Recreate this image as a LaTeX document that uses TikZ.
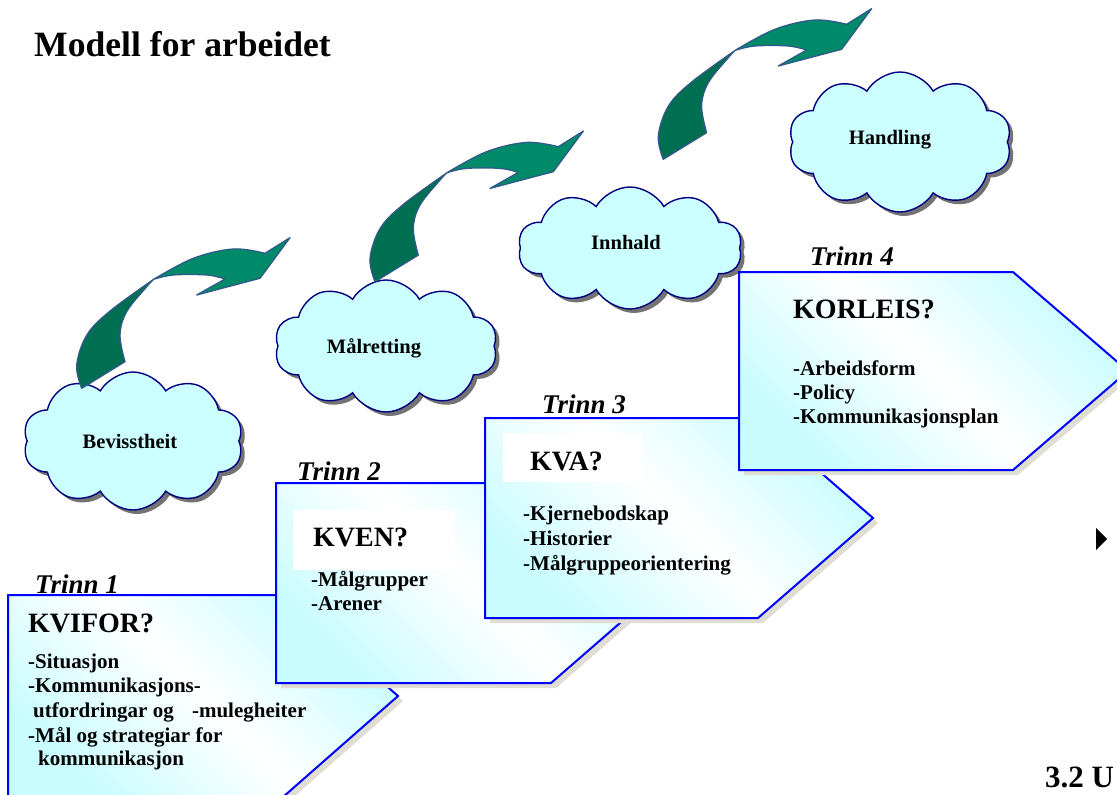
\documentclass[tikz,border=0pt]{standalone}
\usepackage{fontspec}
\setmainfont{Liberation Serif}
\usetikzlibrary{shapes.symbols,shadows}
\definecolor{cloudfill}{HTML}{CCFFFF}
\definecolor{cloudline}{HTML}{000080}
\definecolor{boxline}{HTML}{0000FF}
\definecolor{boxcy}{HTML}{C8FCFF}
\definecolor{boxshadow}{HTML}{E0DDD2}
\definecolor{arrdark}{HTML}{006E50}
\definecolor{arrlight}{HTML}{008A69}
\definecolor{arrline}{HTML}{2F5A8A}
\tikzset{
  cloudsty/.style={shape=cloud, cloud puffs=10, cloud puff arc=120, cloud ignores aspect,
    draw=cloudline, line width=1.4pt, fill=cloudfill, inner sep=0pt,
    drop shadow={shadow xshift=4pt, shadow yshift=-4pt, fill=black!55, opacity=1}},
  cltext/.style={font=\bfseries\fontsize{20.5}{24}\selectfont, anchor=base, inner sep=0pt},
  ttl/.style={font=\bfseries\fontsize{35.6}{40}\selectfont, anchor=base west, inner sep=0pt},
  trinn/.style={font=\bfseries\itshape\fontsize{27}{30}\selectfont, anchor=base west, inner sep=0pt},
  headtxt/.style={font=\bfseries\fontsize{28}{32}\selectfont, anchor=base west, inner sep=0pt},
  item/.style={font=\bfseries\fontsize{21}{24}\selectfont, anchor=base west, inner sep=0pt},
  stepbox/.style={draw=boxline, line width=2pt, top color=boxcy, bottom color=boxcy, middle color=white, shading angle=-45},
  boxshad/.style={fill=boxshadow},
  arrowdark/.style={fill=arrdark, draw=arrline, line width=1.3pt, line join=round},
  arrowlight/.style={fill=arrlight, draw=arrline, line width=1.3pt, line join=round}
}
\newcommand\greenarrow[2]{%
\begin{scope}[shift={(#1,#2)}]
\filldraw[arrowdark] plot[smooth,tension=0.6] coordinates {(0,0) (-5,-23) (5,-53) (28,-77) (72,-109)} -- plot[smooth,tension=0.6] coordinates {(72,-109) (65,-101.6) (45,-76.6) (38.3,-53.3) (43.3,-26.6)} -- cycle;
\filldraw[arrowlight] plot[smooth,tension=0.6] coordinates {(72,-109) (111.6,-130) (151.6,-139.3) (183.3,-135)} -- (208.3,-150.6) -- (178.3,-110) -- (115,-93.3) -- (143.3,-109.3) -- plot[smooth,tension=0.6] coordinates {(143.3,-109.3) (125,-113.3) (91.6,-113.3) (72,-109)} -- cycle;
\end{scope}}
\newcommand\stepshape[5]{% left, top, width, tip, height
\fill[boxshad] (#1+5,#2+5) -- (#1+#3+5,#2+5) -- (#1+#3+#4+5,#2+#5/2+5) -- (#1+#3+5,#2+#5+5) -- (#1+5,#2+#5+5) -- cycle;
\draw[stepbox] (#1,#2) -- (#1+#3,#2) -- (#1+#3+#4,#2+#5/2) -- (#1+#3,#2+#5) -- (#1,#2+#5) -- cycle;}
\begin{document}
\begin{tikzpicture}[x=1pt,y=-1pt]
\useasboundingbox (0,0) rectangle (1117,795);
\clip (0,0) rectangle (1117,795);
\fill[white] (0,0) rectangle (1117,795);

% title
\node[ttl] (title) at (34,56) {Modell for arbeidet};

% clouds
\node[cloudsty, minimum width=220pt, minimum height=138pt] (c1) at (133,441) {};
\node[cloudsty, minimum width=223pt, minimum height=132pt] (c2) at (386,346) {};
\node[cloudsty, minimum width=224pt, minimum height=122pt] (c3) at (630,248) {};
\node[cloudsty, minimum width=223pt, minimum height=140pt] (c4) at (900,142) {};
\node[cltext] (t1) at (130,448) {Bevisstheit};
\node[cltext] (t2) at (374,353) {Målretting};
\node[cltext] (t3) at (626,249) {Innhald};
\node[cltext] (t4) at (890,144) {Handling};

% arrows
\greenarrow{81.7}{388.3}
\greenarrow{375}{281.7}
\greenarrow{663.3}{159.3}

% step shapes
\stepshape{8}{595}{275}{115}{202}
\stepshape{276}{483}{275}{115}{200}
\stepshape{485}{418}{273}{115}{200}
\stepshape{739}{272}{274}{115}{198}

\fill[white] (293,510) rectangle (455,570);
\fill[white] (503,433) rectangle (642,482);

% Trinn labels
\node[trinn] (tr1) at (35,593) {Trinn 1};
\node[trinn] (tr2) at (297,480) {Trinn 2};
\node[trinn] (tr3) at (542,413) {Trinn 3};
\node[trinn] (tr4) at (810,265) {Trinn 4};

% step 1
\node[headtxt] (h1) at (28,632) {KVIFOR?};
\node[item] (a1) at (28,668) {-Situasjon};
\node[item] (a2) at (28,692) {-Kommunikasjons-};
\node[item] (a3) at (33,717) {utfordringar og\hspace*{13pt} -mulegheiter};
\node[item] (a4) at (28,742) {-Mål og strategiar for};
\node[item] (a5) at (38,765) {kommunikasjon};

% step 2
\node[headtxt] (h2) at (313,546) {KVEN?};
\node[item] (b1) at (311,586) {-Målgrupper};
\node[item] (b2) at (311,610) {-Arener};

% step 3
\node[headtxt] (h3) at (530,470) {KVA?};
\node[item] (d1) at (523,520) {-Kjernebodskap};
\node[item] (d2) at (523,545) {-Historier};
\node[item] (d3) at (523,570) {-Målgruppeorientering};

% step 4
\node[headtxt] (h4) at (793,318) {KORLEIS?};
\node[item] (e1) at (793,375) {-Arbeidsform};
\node[item] (e2) at (793,399) {-Policy};
\node[item] (e3) at (793,423) {-Kommunikasjonsplan};

% misc
\fill (1096,528) -- (1096,550) -- (1107,539) -- cycle;
\node[font=\bfseries\fontsize{31}{34}\selectfont, anchor=base west, inner sep=0pt] (sec) at (1045,787) {3.2 U};
\end{tikzpicture}
\end{document}
